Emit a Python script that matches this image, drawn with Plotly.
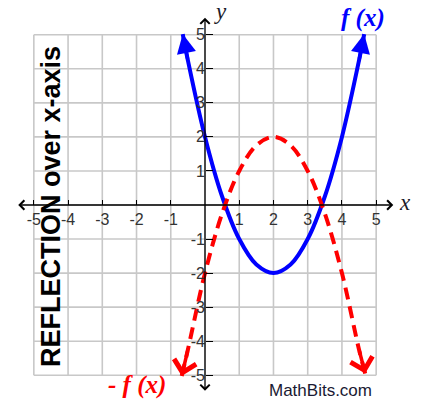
import plotly.graph_objects as go

# f(x): points along the upward parabola
x_f = [-0.65, -0.5, 0.0, 0.5, 1.0, 1.5, 2.0, 2.5, 3.0, 3.5, 4.0, 4.5, 4.65]
y_f = [5.02, 4.25, 2.0, 0.25, -1.0, -1.75, -2.0, -1.75, -1.0, 0.25, 2.0, 4.25, 5.02]

# -f(x): the reflection over the x-axis
x_g = [-0.68, -0.5, 0.0, 0.5, 1.0, 1.5, 2.0, 2.5, 3.0, 3.5, 4.0, 4.5, 4.68]
y_g = [-5.02, -4.25, -2.0, -0.25, 1.0, 1.75, 2.0, 1.75, 1.0, -0.25, -2.0, -4.25, -4.95]

# axis ticks and grid
x_ticks = [-5, -4, -3, -2, -1, 1, 2, 3, 4, 5]
x_tick_text = ["-5", "-4", "-3", "-2", "-1", "1", "2", "3", "4", "5"]
y_ticks = [-5, -4, -3, -2, -1, 1, 2, 3, 4, 5]
y_tick_text = ["-5", "-4", "-3", "-2", "-1", "1", "2", "3", "4", "5"]
grid_vals = [-5, -4, -3, -2, -1, 0, 1, 2, 3, 4, 5]
axis_end = 5.5
view = 5.55

BLUE = "#0000ff"
RED = "#ff0000"

fig = go.Figure()

fig.add_trace(go.Scatter(
    x=x_f, y=y_f, mode="lines",
    line=dict(color=BLUE, width=4, shape="spline", smoothing=1.0),
    hoverinfo="skip", showlegend=False,
))
fig.add_trace(go.Scatter(
    x=x_g, y=y_g, mode="lines",
    line=dict(color=RED, width=4, shape="spline", smoothing=1.0, dash="12px,7px"),
    hoverinfo="skip", showlegend=False,
))

shapes = []
g_lo, g_hi = min(grid_vals), max(grid_vals)
for v in grid_vals:
    shapes.append(dict(type="line", xref="x", yref="y", x0=v, x1=v, y0=g_lo, y1=g_hi,
                       line=dict(color="#c8c8c8", width=1.6), layer="below"))
    shapes.append(dict(type="line", xref="x", yref="y", x0=g_lo, x1=g_hi, y0=v, y1=v,
                       line=dict(color="#c8c8c8", width=1.6), layer="below"))

annotations = []

# coordinate axes with arrows at both ends
annotations.append(dict(x=axis_end, y=0, ax=-axis_end, ay=0, xref="x", yref="y",
                        axref="x", ayref="y", text="", showarrow=True,
                        arrowside="end+start", arrowhead=4, startarrowhead=4,
                        arrowsize=1.4, startarrowsize=1.4, arrowwidth=1.3,
                        arrowcolor="#000000", standoff=0, startstandoff=0))
annotations.append(dict(x=0, y=axis_end, ax=0, ay=-axis_end, xref="x", yref="y",
                        axref="x", ayref="y", text="", showarrow=True,
                        arrowside="end+start", arrowhead=4, startarrowhead=4,
                        arrowsize=1.4, startarrowsize=1.4, arrowwidth=1.3,
                        arrowcolor="#000000", standoff=0, startstandoff=0))


def end_arrow(xs, ys, idx, prev, color, head, size):
    return dict(x=xs[idx], y=ys[idx], ax=xs[prev], ay=ys[prev], xref="x", yref="y",
                axref="x", ayref="y", text="", showarrow=True, arrowhead=head,
                arrowsize=size, arrowwidth=3.5, arrowcolor=color, standoff=0)


annotations.append(end_arrow(x_f, y_f, 0, 1, BLUE, 2, 1.1))
annotations.append(end_arrow(x_f, y_f, -1, -2, BLUE, 2, 1.1))
annotations.append(end_arrow(x_g, y_g, 0, 1, RED, 4, 1.25))
annotations.append(end_arrow(x_g, y_g, -1, -2, RED, 4, 1.25))

serif = "Liberation Serif, Times New Roman, serif"
sans = "Liberation Sans, Arial, sans-serif"


def label(x, y, text, font, **kw):
    return dict(x=x, y=y, xref="paper", yref="paper", text=text, showarrow=False,
                xanchor="center", yanchor="middle", font=font, **kw)


annotations += [
    label(0.916, 0.995, "<b><i>f (x)</i></b>", dict(family=serif, size=25, color=BLUE)),
    label(0.321, 0.024, "<b><i>- f (x)</i></b>", dict(family=serif, size=25, color=RED)),
    label(1.026, 0.507, "<i>x</i>", dict(family=serif, size=23, color="#1a1a2a")),
    label(0.542, 1.011, "<i>y</i>", dict(family=serif, size=23, color="#1a1a2a")),
    label(0.805, 0.008, "MathBits.com", dict(family=sans, size=17, color="#1a1a33")),
    label(0.095, 0.495, "<b>REFLECTION over x-axis</b>",
          dict(family=sans, size=27, color="#000000"), textangle=-90),
]

tick_font = dict(family=sans, size=16, color="#333333")

fig.update_layout(
    width=422, height=403,
    margin=dict(l=15, r=27, t=16, b=9),
    paper_bgcolor="white", plot_bgcolor="white",
    shapes=shapes, annotations=annotations,
    xaxis=dict(range=[-view, view], showgrid=False, zeroline=False, showline=False,
               tickvals=x_ticks, ticktext=x_tick_text, ticks="inside", ticklen=5,
               tickcolor="#000000", tickwidth=1, tickfont=tick_font,
               ticklabelstandoff=3,
               anchor="free", position=0.5, fixedrange=True),
    yaxis=dict(range=[-view, view], showgrid=False, zeroline=False, showline=False,
               tickvals=y_ticks, ticktext=y_tick_text, ticks="inside", ticklen=7,
               tickcolor="#000000", tickwidth=1, tickfont=tick_font,
               anchor="free", position=0.5, fixedrange=True),
)

fig.write_html("out.html")
